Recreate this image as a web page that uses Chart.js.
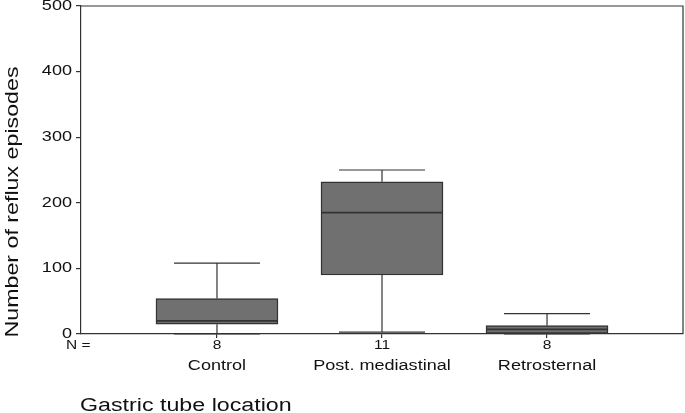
<!DOCTYPE html>
<html lang="en">
<head>
  <meta charset="UTF-8">
  <title>Reflux episodes by gastric tube location</title>
  <script src="https://cdn.jsdelivr.net/npm/chart.js"></script>
  <style>
    html, body { margin: 0; padding: 0; background: #fff; }
    #wrap { width: 685px; height: 413px; }
  </style>
</head>
<body>
  <div id="wrap"><canvas id="grafico"></canvas></div>
  <script>
    // data
    const categorias = ['Control', 'Post. mediastinal', 'Retrosternal'];
    const posiciones = [1, 2, 3];
    const nCasos = [8, 11, 8];
    const bigoteBajo = [0, 3, 0];
    const q1 = [15, 90, 0];
    const mediana = [20, 185, 7];
    const q3 = [54, 232, 13];
    const bigoteAlto = [108, 250, 31];
    const ticksY = [0, 100, 200, 300, 400, 500];

    const FUENTE = '"Liberation Sans", Arial, sans-serif';
    const ESTIRA = 1.29; // the original lettering is wider than Arial

    function texto(ctx, t, x, y, size, align, rot) {
      ctx.save();
      ctx.translate(x, y);
      if (rot) ctx.rotate(rot);
      ctx.scale(ESTIRA, 1);
      ctx.font = size + 'px ' + FUENTE;
      ctx.fillStyle = '#111';
      ctx.textAlign = align;
      ctx.textBaseline = 'middle';
      ctx.fillText(t, 0, 0);
      ctx.restore();
    }

    const cajas = {
      id: 'cajas',
      afterDatasetsDraw(chart) {
        const { ctx, chartArea: a } = chart;
        const x = chart.scales.x, y = chart.scales.y;
        ctx.save();
        ctx.strokeStyle = '#333';
        ctx.lineWidth = 1.2;
        // frame top and right
        ctx.beginPath();
        ctx.moveTo(a.left, a.top);
        ctx.lineTo(a.right, a.top);
        ctx.lineTo(a.right, a.bottom);
        ctx.stroke();
        posiciones.forEach((p, i) => {
          const cx = x.getPixelForValue(p);
          const half = 43;
          ctx.beginPath();
          ctx.moveTo(cx, y.getPixelForValue(q3[i]));
          ctx.lineTo(cx, y.getPixelForValue(bigoteAlto[i]));
          ctx.moveTo(cx, y.getPixelForValue(q1[i]));
          ctx.lineTo(cx, y.getPixelForValue(bigoteBajo[i]));
          [bigoteAlto[i], bigoteBajo[i]].forEach(v => {
            const py = y.getPixelForValue(v);
            ctx.moveTo(cx - half, py);
            ctx.lineTo(cx + half, py);
          });
          ctx.stroke();
          // median
          ctx.lineWidth = 1.6;
          ctx.beginPath();
          const pm = y.getPixelForValue(mediana[i]);
          ctx.moveTo(cx - 61, pm);
          ctx.lineTo(cx + 61, pm);
          ctx.stroke();
          ctx.lineWidth = 1.2;
        });
        ctx.restore();
      },
      afterDraw(chart) {
        const { ctx } = chart;
        const x = chart.scales.x, y = chart.scales.y;
        ticksY.forEach(v => texto(ctx, String(v), 72, y.getPixelForValue(v), 14, 'right'));
        texto(ctx, 'N =', 66, 346, 12, 'left');
        posiciones.forEach((p, i) => {
          const cx = x.getPixelForValue(p);
          texto(ctx, String(nCasos[i]), cx, 346, 12, 'center');
          texto(ctx, categorias[i], cx, 366, 14, 'center');
        });
        texto(ctx, 'Gastric tube location', 80, 406, 18, 'left');
        texto(ctx, 'Number of reflux episodes', 13, 202, 18, 'center', -Math.PI / 2);
      }
    };

    new Chart(document.getElementById('grafico'), {
      type: 'bar',
      data: {
        datasets: [{
          label: 'Reflux episodes',
          data: posiciones.map((p, i) => ({ x: p, y: [q1[i], q3[i]] })),
          backgroundColor: '#707070',
          borderColor: '#333',
          borderWidth: 1.5,
          borderSkipped: false,
          barThickness: 122
        }]
      },
      options: {
        responsive: true,
        maintainAspectRatio: false,
        animation: false,
        layout: { padding: { top: 6, right: 2, left: 0, bottom: 0 } },
        plugins: { legend: { display: false }, tooltip: { enabled: false } },
        scales: {
          x: {
            type: 'linear',
            offset: false,
            min: 0.176,
            max: 3.824,
            afterBuildTicks: s => { s.ticks = posiciones.map(v => ({ value: v })); },
            afterFit: s => { s.height = 79; },
            ticks: { display: false },
            grid: { offset: false, drawOnChartArea: false, tickLength: 4, color: '#333', lineWidth: 1.2 },
            border: { color: '#333', width: 1.2 }
          },
          y: {
            min: 0,
            max: 500,
            afterBuildTicks: s => { s.ticks = ticksY.map(v => ({ value: v })); },
            afterFit: s => { s.width = 81; },
            ticks: { display: false },
            grid: { drawOnChartArea: false, tickLength: 5, color: '#333', lineWidth: 1.2 },
            border: { color: '#333', width: 1.2 }
          }
        }
      },
      plugins: [cajas]
    });
  </script>
</body>
</html>
